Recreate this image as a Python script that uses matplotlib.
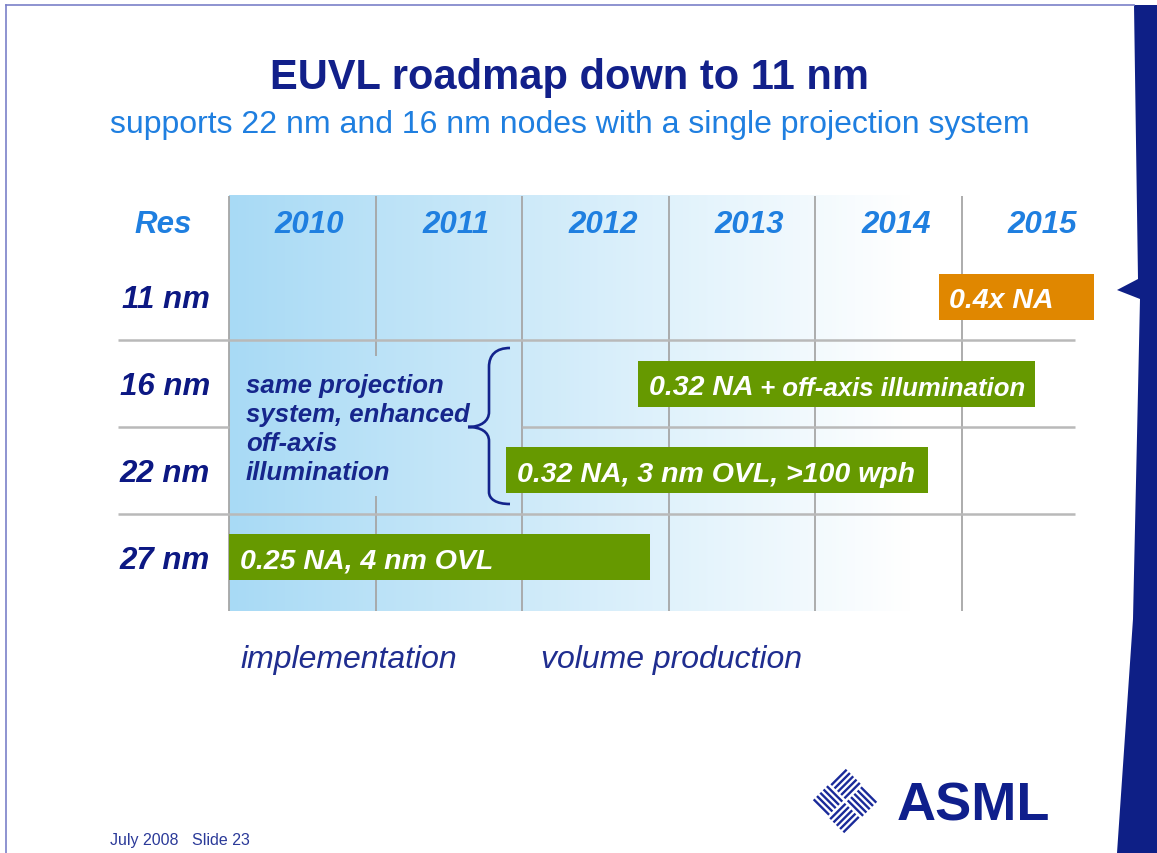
import numpy as np
import matplotlib.pyplot as plt
from matplotlib.path import Path
from matplotlib.patches import PathPatch, Polygon

plt.rcParams['font.family'] = ['Liberation Sans', 'DejaVu Sans']

# roadmap content
years = [2010, 2011, 2012, 2013, 2014, 2015]
resolutions = ["11 nm", "16 nm", "22 nm", "27 nm"]

bar_rows = [0, 1, 2, 3]
bar_start = [2014.84, 2012.79, 2011.89, 2010.0]
bar_end = [2015.90, 2015.50, 2014.77, 2012.87]
bar_labels = ["0.4x NA", "0.32 NA", "0.32 NA, 3 nm OVL, >100 wph", "0.25 NA, 4 nm OVL"]
bar_extra = ["", " + off-axis illumination", "", ""]
bar_kind = ["future", "current", "current", "current"]

phases = ["implementation", "volume production"]
phase_start = [2010.075, 2012.13]

note = "same projection\nsystem, enhanced\noff-axis\nillumination"

NAVY = "#0c1883"
BLUE = "#1f7fe0"
kind_color = {"future": "#e08700", "current": "#669900"}

W, H = 1157, 854
fig = plt.figure(figsize=(W / 100, H / 100), dpi=100)
fig.patch.set_facecolor("white")

# chart axes: x in years, y in rows
ax = fig.add_axes([0, 0, 1, 1])
ax.axis("off")
X0, DX = 229, 146.6   # pixel of 2010 and pixels per year
Y0, DY = 298, 86.7    # pixel of first row and pixels per row

# pixel axes for slide decoration, drawn on top
px = fig.add_axes([0, 0, 1, 1])
px.set_xlim(0, W)
px.set_ylim(H, 0)
px.axis("off")
px.set_zorder(2)

top, bottom = -1.165, 3.622
left_lab, right_end = 2009.243, 2015.771

# fading blue background
g = np.linspace(0, 1, 256)[:, None]
c0 = np.array([168, 218, 245]) / 255
img = c0 * (1 - g) + g
ax.imshow(img[None, :, :], extent=(years[0], 2014.65, bottom, top),
          aspect="auto", interpolation="bilinear", zorder=0)

# grid
for yr in years:
    if yr == 2011:
        ax.vlines(yr, top, 0.68, color="#a6a6a6", lw=1.3, zorder=1)
        ax.vlines(yr, 2.30, bottom, color="#a6a6a6", lw=1.3, zorder=1)
    else:
        ax.vlines(yr, top, bottom, color="#a6a6a6", lw=1.3, zorder=1)
for r in [0.5, 1.5, 2.5]:
    if r == 1.5:
        ax.hlines(r, left_lab, 2010, color="#b9b9b9", lw=1.8, zorder=1)
        ax.hlines(r, 2012, right_end, color="#b9b9b9", lw=1.8, zorder=1)
    else:
        ax.hlines(r, left_lab, right_end, color="#b9b9b9", lw=1.8, zorder=1)

# header
ax.text(2009.55, -0.75, "Res", ha="center", va="baseline", fontsize=22.5,
        fontweight="bold", fontstyle="italic", color=BLUE)
for yr in years:
    ax.text(yr + 0.55, -0.75, str(yr), ha="center", va="baseline", fontsize=22.5,
            fontweight="bold", fontstyle="italic", color=BLUE)
for i, res in enumerate(resolutions):
    ax.text(2009.87, i + 0.12, res, ha="right", va="baseline", fontsize=22.5,
            fontweight="bold", fontstyle="italic", color=NAVY)

# bars
widths = np.array(bar_end) - np.array(bar_start)
ax.barh(bar_rows, widths, left=bar_start, height=0.53,
        color=[kind_color[k] for k in bar_kind], zorder=3)
for r, s, lab, ext in zip(bar_rows, bar_start, bar_labels, bar_extra):
    t = ax.text(s + 0.072, r + 0.12, lab, ha="left", va="baseline", fontsize=20.5,
                fontweight="bold", fontstyle="italic", color="white", zorder=4)
    if ext:
        ax.annotate(ext, xy=(1, 0), xycoords=t, ha="left", va="bottom",
                    fontsize=18.5, fontweight="bold", fontstyle="italic",
                    color="white", zorder=4)

# note + brace (baseline anchors the last line)
ax.text(2010.116, 2.10, note, ha="left", va="baseline", fontsize=18.5,
        fontweight="bold", fontstyle="italic", color="#16268c", linespacing=1.27)

brace = Path([(510, 349), (496, 349), (489, 356), (489, 368), (489, 413),
              (489, 422), (481, 428), (468, 428),
              (481, 428), (489, 433), (489, 442), (489, 493),
              (489, 500), (496, 505), (510, 505)],
             [Path.MOVETO, Path.CURVE4, Path.CURVE4, Path.CURVE4, Path.LINETO,
              Path.CURVE4, Path.CURVE4, Path.CURVE4,
              Path.CURVE4, Path.CURVE4, Path.CURVE4, Path.LINETO,
              Path.CURVE4, Path.CURVE4, Path.CURVE4])
px.add_patch(PathPatch(brace, fill=False, edgecolor="#13238c", lw=1.9, zorder=5))

for ph, s in zip(phases, phase_start):
    ax.text(s, 4.27, ph, ha="left", va="baseline", fontsize=23,
            fontstyle="italic", color="#1f2d8f")

ax.set_xlim(2010 - X0 / DX, 2010 + (W - X0) / DX)
ax.set_ylim((H - Y0) / DY, -Y0 / DY)

# titles
fig.text(570 / W, 1 - 89 / H, "EUVL roadmap down to 11 nm", ha="center", va="baseline",
         fontsize=30, fontweight="bold", color="#12208a")
fig.text(570 / W, 1 - 133 / H, "supports 22 nm and 16 nm nodes with a single projection system",
         ha="center", va="baseline", fontsize=23, color=BLUE)
fig.text(110 / W, 1 - 845 / H, "July 2008   Slide 23", ha="left", va="baseline",
         fontsize=11.5, color="#2b3a99")

# slide frame and right band
px.plot([6, 1134], [6, 6], color="#7a80c8", lw=1.2)
px.plot([6, 6], [6, H], color="#7a80c8", lw=1.2)
px.add_patch(Polygon([(1134, 6), (1138, 280), (1117, 291), (1140, 300), (1133, 620),
                      (1117, H), (W, H), (W, 6)], closed=True, facecolor="#0e1f86",
                     edgecolor="none"))

# ASML logo
cx, cy, a, n = 845, 802, 23.3, 5
eu = np.array([1, -1]) / np.sqrt(2)
ev = np.array([1, 1]) / np.sqrt(2)
def seg(u0, v0, u1, v1):
    p0 = np.array([cx, cy]) + u0 * eu + v0 * ev
    p1 = np.array([cx, cy]) + u1 * eu + v1 * ev
    px.plot([p0[0], p1[0]], [p0[1], p1[1]], color="#1a2a9a", lw=1.7,
            solid_capstyle="butt")
for k in range(n):
    d = (k + 0.5) * a / n
    seg(1.5, -d, a, -d)      # top
    seg(-a, d, -1.5, d)      # bottom
    seg(d, 1.5, d, a)        # right
    seg(-d, -a, -d, -1.5)    # left
fig.text(897 / W, 1 - 821 / H, "ASML", ha="left", va="baseline", fontsize=39,
         fontweight="bold", color="#0f1f8c")

fig.savefig("out.png", dpi=100)
